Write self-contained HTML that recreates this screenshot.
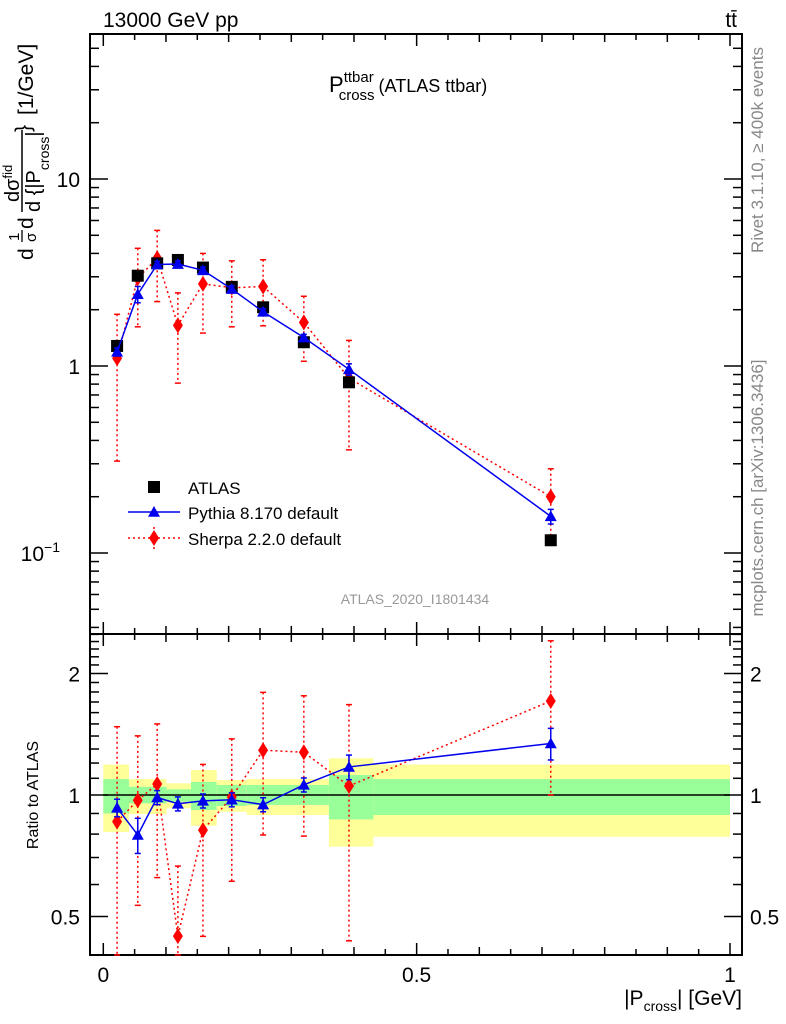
<!DOCTYPE html>
<html><head><meta charset="utf-8">
<style>
body{margin:0;background:#fff;}
svg{display:block;font-family:"Liberation Sans",sans-serif;}
</style></head>
<body>
<svg id="c" width="786" height="1024" viewBox="0 0 786 1024"></svg>
<script>
const xVals=[0.022,0.055,0.086,0.119,0.159,0.205,0.255,0.32,0.392,0.714];
const atlasVals=[1.28,3.04,3.54,3.69,3.36,2.65,2.06,1.34,0.818,0.117];
const pythiaVals=[1.19,2.42,3.49,3.51,3.25,2.58,1.95,1.42,0.96,0.157];
const pythiaRelErr=[0.05,0.1,0.04,0.04,0.04,0.04,0.04,0.04,0.07,0.09];
const sherpaVals=[1.10,2.95,3.77,1.65,2.75,2.62,2.66,1.71,0.861,0.200];
const sherpaHi=[1.89,4.26,5.31,2.46,4.0,3.65,3.70,2.36,1.37,0.282];
const sherpaLo=[0.31,1.62,2.21,0.81,1.50,1.62,1.64,1.06,0.356,0.117];
const bandEdges=[0,0.041,0.101,0.14,0.181,0.229,0.36,0.431,1];
const yellowHi=[1.19,1.095,1.069,1.153,1.089,1.095,1.233,1.19];
const yellowLo=[0.81,0.897,0.927,0.839,0.909,0.892,0.745,0.788];
const greenHi=[1.095,1.048,1.033,1.077,1.059,1.059,1.121,1.095];
const greenLo=[0.90,0.954,0.963,0.918,0.939,0.945,0.87,0.892];

const NS="http://www.w3.org/2000/svg";
const svg=document.getElementById('c');
function el(tag,attrs,parent){const e=document.createElementNS(NS,tag);for(const k in attrs)e.setAttribute(k,attrs[k]);(parent||svg).appendChild(e);return e;}
const L=90,R=742,T=34,M=634,B=955;
const X=v=>103.3+v*626.7;
const Y=v=>366-187*Math.log10(v);
const RY=v=>795-121.5*Math.log2(v);

for(let i=0;i<yellowHi.length;i++){
  const x0=X(bandEdges[i]),x1=X(bandEdges[i+1]);
  const yb=el('rect',{x:x0,y:RY(yellowHi[i]),width:x1-x0,height:RY(yellowLo[i])-RY(yellowHi[i]),fill:'#ffff99'});
  
  
  const gb=el('rect',{x:x0,y:RY(greenHi[i]),width:x1-x0,height:RY(greenLo[i])-RY(greenHi[i]),fill:'#99ff99'});
  
  
}
el('line',{x1:X(0),x2:X(1),y1:RY(1),y2:RY(1),stroke:'#000','stroke-width':1.5});

el('rect',{x:L,y:T,width:R-L,height:M-T,fill:'none',stroke:'#000','stroke-width':2});
el('rect',{x:L,y:M,width:R-L,height:B-M,fill:'none',stroke:'#000','stroke-width':2});

for(let k=0;k<=20;k++){
  const v=k*0.05, x=X(v);
  const len=(k%10===0)?12:(k%2===0?8:6);
  [[T,1],[M,-1],[M,1],[B,-1]].forEach(([y,d])=>{el('line',{x1:x,x2:x,y1:y,y2:y+d*len,stroke:'#000','stroke-width':1.5});});
}
[['0',0],['0.5',0.5],['1',1]].forEach(([t,v])=>{const e=el('text',{x:X(v),y:982,'font-size':21,'text-anchor':'middle'});e.textContent=t;});

for(let d=-2;d<=1;d++)for(let m=1;m<=9;m++){
  const v=m*Math.pow(10,d),y=Y(v);if(y<T||y>M)continue;
  const len=m===1?18:9;
  el('line',{x1:L,x2:L+len,y1:y,y2:y,stroke:'#000','stroke-width':1.5});
  el('line',{x1:R,x2:R-len,y1:y,y2:y,stroke:'#000','stroke-width':1.5});
}
[['10',10],['1',1]].forEach(([t,v])=>{const e=el('text',{x:80,y:Y(v)+8,'font-size':21,'text-anchor':'end'});e.textContent=t;});
{const e=el('text',{x:60,y:Y(0.1)+8,'font-size':21,'text-anchor':'end'});e.innerHTML='10<tspan dy="-9" font-size="14">−1</tspan>';}

for(let k=4;k<=25;k++){
  const v=k/10,y=RY(v);if(y<M||y>B)continue;
  const len=(k===5||k===10||k===20)?18:9;
  el('line',{x1:L,x2:L+len,y1:y,y2:y,stroke:'#000','stroke-width':1.5});
  el('line',{x1:R,x2:R-len,y1:y,y2:y,stroke:'#000','stroke-width':1.5});
}
[['2',2],['1',1],['0.5',0.5]].forEach(([t,v])=>{
  const a=el('text',{x:80,y:RY(v)+8,'font-size':21,'text-anchor':'end'});a.textContent=t;
  const b=el('text',{x:750,y:RY(v)+8,'font-size':21,'text-anchor':'start'});b.textContent=t;
});

function errBar(x,y1,y2,color,dash,g){el('line',{x1:x,x2:x,y1:y1,y2:y2,stroke:color,'stroke-width':1.5,'stroke-dasharray':dash||'none'},g);
  el('line',{x1:x-3,x2:x+3,y1:y1,y2:y1,stroke:color,'stroke-width':1.5},g);el('line',{x1:x-3,x2:x+3,y1:y2,y2:y2,stroke:color,'stroke-width':1.5},g);}
const clipY=(y,a,b)=>Math.max(a,Math.min(b,y));
function tri(x,y,g,s){return el('polygon',{points:`${x},${y-s} ${x-s},${y+s*0.8} ${x+s},${y+s*0.8}`,fill:'#0000ee'},g);}
function dia(x,y,g){return el('polygon',{points:`${x},${y-8} ${x-5},${y} ${x},${y+8} ${x+5},${y}`,fill:'#ff0000'},g);}

const gS=el('g',{});
el('polyline',{points:xVals.map((x,i)=>X(x)+','+Y(sherpaVals[i])).join(' '),fill:'none',stroke:'#ff0000','stroke-width':1.5,'stroke-dasharray':'2,3'},gS);
xVals.forEach((x,i)=>{errBar(X(x),clipY(Y(sherpaHi[i]),T,M),clipY(Y(sherpaLo[i]),T,M),'#ff0000','2,3',gS);});
const gA=el('g',{});
xVals.forEach((x,i)=>{const r=el('rect',{x:X(x)-6,y:Y(atlasVals[i])-6,width:12,height:12,fill:'#000'},gA);});
const gP=el('g',{});
el('polyline',{points:xVals.map((x,i)=>X(x)+','+Y(pythiaVals[i])).join(' '),fill:'none',stroke:'#0000ee','stroke-width':1.5},gP);
xVals.forEach((x,i)=>{const v=pythiaVals[i],e=pythiaRelErr[i]*v;errBar(X(x),Y(v+e),Y(v-e),'#0000ee',null,gP);tri(X(x),Y(v),gP,6);});
xVals.forEach((x,i)=>{const p=dia(X(x),Y(sherpaVals[i]),gS);});

const gSR=el('g',{});
el('polyline',{points:xVals.map((x,i)=>X(x)+','+RY(sherpaVals[i]/atlasVals[i])).join(' '),fill:'none',stroke:'#ff0000','stroke-width':1.5,'stroke-dasharray':'2,3'},gSR);
xVals.forEach((x,i)=>{errBar(X(x),clipY(RY(sherpaHi[i]/atlasVals[i]),M,B),clipY(RY(sherpaLo[i]/atlasVals[i]),M,B),'#ff0000','2,3',gSR);});
const gPR=el('g',{});
el('polyline',{points:xVals.map((x,i)=>X(x)+','+RY(pythiaVals[i]/atlasVals[i])).join(' '),fill:'none',stroke:'#0000ee','stroke-width':1.5},gPR);
xVals.forEach((x,i)=>{const r=pythiaVals[i]/atlasVals[i],e=pythiaRelErr[i]*r;errBar(X(x),RY(r+e),RY(r-e),'#0000ee',null,gPR);tri(X(x),RY(r),gPR,6);});
xVals.forEach((x,i)=>{dia(X(x),RY(sherpaVals[i]/atlasVals[i]),gSR);});

const lg=el('g',{});
el('rect',{x:148,y:481,width:12,height:12,fill:'#000'},lg);
el('line',{x1:128,x2:180,y1:512,y2:512,stroke:'#0000ee','stroke-width':1.5},lg);tri(154,512,lg,6);
el('line',{x1:128,x2:180,y1:538,y2:538,stroke:'#ff0000','stroke-width':1.5,'stroke-dasharray':'2,3'},lg);
el('line',{x1:154,x2:154,y1:527,y2:549,stroke:'#ff0000','stroke-width':1.5,'stroke-dasharray':'2,3'},lg);dia(154,538,lg);
[['ATLAS',494],['Pythia 8.170 default',519],['Sherpa 2.2.0 default',545]].forEach(([t,y])=>{const e=el('text',{x:188,y:y,'font-size':17},lg);e.textContent=t;});
</script>
<div style="position:absolute;left:0;top:0;width:786px;height:1024px;pointer-events:none;">
<svg width="786" height="1024" style="position:absolute;left:0;top:0;font-family:'Liberation Sans',sans-serif;">
<text x="103" y="27" font-size="21">13000 GeV pp</text>
<text x="737" y="27" font-size="21" text-anchor="end">tt̄</text>
<text x="329" y="92" font-size="22">P<tspan font-size="15" dy="-10">ttbar</tspan><tspan font-size="15" dx="-35" dy="18">cross</tspan><tspan font-size="18" dx="4" dy="-8">(ATLAS ttbar)</tspan></text>
<text x="415" y="604" font-size="14" fill="#999" text-anchor="middle">ATLAS_2020_I1801434</text>
<text transform="translate(763,150) rotate(-90)" font-size="17" fill="#888" text-anchor="middle">Rivet 3.1.10, ≥ 400k events</text>
<text transform="translate(763,488) rotate(-90)" font-size="17" fill="#888" text-anchor="middle">mcplots.cern.ch [arXiv:1306.3436]</text>
<text transform="translate(38,795) rotate(-90)" font-size="16" text-anchor="middle">Ratio to ATLAS</text>
<g transform="translate(0,262) rotate(-90)">
  <text x="2" y="33" font-size="21">d</text>
  <text x="21" y="19" font-size="15">1</text>
  <line x1="20" x2="32" y1="22" y2="22" stroke="#000" stroke-width="1.3"/>
  <text x="20" y="36" font-size="15">σ</text>
  <text x="33" y="33" font-size="21">d</text>
  <text x="60" y="19" font-size="20">dσ<tspan font-size="13" dy="-7">fid</tspan></text>
  <line x1="50" x2="132" y1="22" y2="22" stroke="#000" stroke-width="1.5"/>
  <text x="50" y="40" font-size="20">d {|P<tspan font-size="14" dy="9">cross</tspan><tspan dy="-9">|</tspan></text>
  <text x="130" y="30" font-size="21">}</text>
  <text x="147" y="33" font-size="21">[1/GeV]</text>
</g>
<text x="742" y="1005" font-size="21" text-anchor="end">|P<tspan font-size="14" dy="6">cross</tspan><tspan dy="-6">| [GeV]</tspan></text>
</svg></div>
</body></html>
